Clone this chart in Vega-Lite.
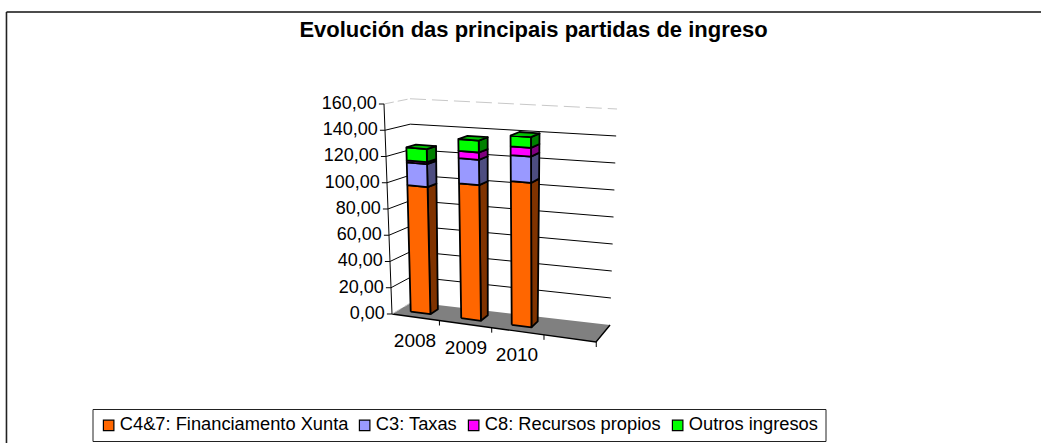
{"$schema":"https://vega.github.io/schema/vega-lite/v6.json","width":1041,"height":443,"padding":0,"autosize":{"type":"none"},"background":"white","config":{"view":{"stroke":null},"font":"Liberation Sans"},
"title":{"text":"Evolución das principais partidas de ingreso","font":"Liberation Sans","fontSize":22,"fontWeight":"bold","color":"black","anchor":"middle","baseline":"alphabetic","offset":-59,"dx":13},
"datasets":{"ingresos":[
{"year":2008,"series":"C4&7: Financiamento Xunta","value":97},{"year":2008,"series":"C3: Taxas","value":17.5},{"year":2008,"series":"C8: Recursos propios","value":1.5},{"year":2008,"series":"Outros ingresos","value":10},
{"year":2009,"series":"C4&7: Financiamento Xunta","value":102},{"year":2009,"series":"C3: Taxas","value":19},{"year":2009,"series":"C8: Recursos propios","value":5.5},{"year":2009,"series":"Outros ingresos","value":9},
{"year":2010,"series":"C4&7: Financiamento Xunta","value":107},{"year":2010,"series":"C3: Taxas","value":19.5},{"year":2010,"series":"C8: Recursos propios","value":6.5},{"year":2010,"series":"Outros ingresos","value":8}],
"ticks":[{"tick":0},{"tick":20},{"tick":40},{"tick":60},{"tick":80},{"tick":100},{"tick":120},{"tick":140},{"tick":160}],
"years":[{"year":2008},{"year":2009},{"year":2010},{"year":2011}],
"floor":[{"part":"floor"}]},
"encoding":{"x":{"field":"X","type":"quantitative","axis":null,"scale":{"domain":[-7.686,12.725],"range":[0,1041],"nice":false,"zero":false}},"y":{"field":"Y","type":"quantitative","axis":null,"scale":{"domain":[-98.29,239.24],"range":[443,0],"nice":false,"zero":false}}},
"layer":[
{"data":{"name":"floor"},"transform":[{"calculate":"-7.559","as":"X"},{"calculate":"12.725","as":"X2"},{"calculate":"230.1","as":"Y"},{"calculate":"-98.29","as":"Y2"}],
"layer":[{"mark":{"type":"rule","stroke":"#222222","strokeWidth":1.6},"encoding":{"y2":{"field":"Y2"}}},
{"mark":{"type":"rule","stroke":"#111111","strokeWidth":1.4},"encoding":{"x2":{"field":"X2"}}}]},
{"data":{"name":"floor"},"transform":[{"calculate":"[0,1,2,3,4]","as":"c"},{"flatten":["c"]},{"calculate":"datum.c%4==0||datum.c%4==3?0:1","as":"U"},{"calculate":"datum.c%4<2?0:1","as":"D"},
{"calculate":"(1-datum.D)*datum.U*4+datum.D*((1-datum.U)*0.392+datum.U*4.275)","as":"X"},{"calculate":"(1-datum.D)*datum.U*(-21.33)+datum.D*((1-datum.U)*9.14+datum.U*(-8.38))","as":"Y"}],
"layer":[{"mark":{"type":"line","fill":"#808080","stroke":null},"encoding":{"order":{"field":"c"}}},
{"transform":[{"filter":"datum.c<=2"}],"mark":{"type":"line","stroke":"black","strokeWidth":1.4},"encoding":{"order":{"field":"c"}}}]},
{"data":{"name":"ticks"},"transform":[{"calculate":"datum.tick/160","as":"V"},
{"calculate":"-0.157*datum.V","as":"X"},{"calculate":"datum.tick","as":"Y"},
{"calculate":"0.392-0.039*datum.V","as":"Xb"},{"calculate":"9.14+154.86*datum.V","as":"Yb"},
{"calculate":"4.275+0.137*datum.V","as":"Xr"},{"calculate":"-8.38+164.58*datum.V","as":"Yr"},
{"calculate":"datum.X-0.1","as":"Xt"},{"calculate":"datum.X-0.14","as":"Xl"},{"calculate":"replace(format(datum.tick,'.2f'),'.',',')","as":"label"}],
"layer":[
{"transform":[{"filter":"datum.tick>0&&datum.tick<160"}],"mark":{"type":"rule","stroke":"black","strokeWidth":1},"encoding":{"x2":{"field":"Xb"},"y2":{"field":"Yb"}}},
{"transform":[{"filter":"datum.tick>0&&datum.tick<160"}],"mark":{"type":"rule","stroke":"black","strokeWidth":1},"encoding":{"x":{"field":"Xb","type":"quantitative"},"y":{"field":"Yb","type":"quantitative"},"x2":{"field":"Xr"},"y2":{"field":"Yr"}}},
{"transform":[{"filter":"datum.tick==160||datum.tick==0"}],"mark":{"type":"rule","stroke":"#c8c8c8","strokeWidth":1,"strokeDash":[10,4]},"encoding":{"x2":{"field":"Xb"},"y2":{"field":"Yb"}}},
{"transform":[{"filter":"datum.tick==160"}],"mark":{"type":"rule","stroke":"#c8c8c8","strokeWidth":1,"strokeDash":[16,6]},"encoding":{"x":{"field":"Xb","type":"quantitative"},"y":{"field":"Yb","type":"quantitative"},"x2":{"field":"Xr"},"y2":{"field":"Yr"}}},
{"mark":{"type":"rule","stroke":"black","strokeWidth":1},"encoding":{"x2":{"field":"Xt"},"y2":{"field":"Y"}}},
{"mark":{"type":"line","stroke":"black","strokeWidth":1},"encoding":{"order":{"field":"tick"}}},
{"mark":{"type":"text","align":"right","baseline":"middle","fontSize":18,"font":"Liberation Sans","color":"black"},"encoding":{"x":{"field":"Xl","type":"quantitative"},"text":{"field":"label"}}}
]},
{"data":{"name":"years"},"transform":[{"calculate":"datum.year-2008","as":"k"},{"calculate":"0.93+1.025*datum.k","as":"u"},{"calculate":"datum.u","as":"X"},{"calculate":"-5.333*datum.u","as":"Y"},{"calculate":"datum.Y-3.8","as":"Y2"}],
"mark":{"type":"rule","stroke":"black","strokeWidth":1},"encoding":{"y2":{"field":"Y2"}}},
{"data":{"name":"years"},"transform":[{"filter":"datum.year<2011"},{"calculate":"datum.year-2008","as":"k"},{"calculate":"0.45+1.0*datum.k","as":"X"},{"calculate":"-5.333*datum.X-18.5","as":"Y"}],
"mark":{"type":"text","align":"center","baseline":"middle","fontSize":19,"font":"Liberation Sans","color":"black"},"encoding":{"text":{"field":"year"}}},
{"data":{"name":"ingresos"},"transform":[
{"calculate":"indexof(['C4&7: Financiamento Xunta','C3: Taxas','C8: Recursos propios','Outros ingresos'],datum.series)","as":"rank"},
{"stack":"value","groupby":["year"],"sort":[{"field":"rank","order":"ascending"}],"as":["v0","v1"]},
{"calculate":"datum.year-2008","as":"k"},
{"calculate":"datum.k+0.24","as":"uL"},{"calculate":"datum.k+0.63","as":"uR"},
{"calculate":"['side','front','top']","as":"face"},{"flatten":["face"]},
{"filter":"datum.face!='top'||datum.rank==3"},
{"calculate":"[0,1,2,3,4]","as":"c"},{"flatten":["c"]},
{"calculate":"datum.c%4","as":"i"},
{"calculate":"datum.face=='side'?datum.uR:(datum.i==0||datum.i==3?datum.uL:datum.uR)","as":"u"},
{"calculate":"datum.face=='side'?(datum.i==0||datum.i==3?0.33:0.72):datum.face=='front'?0.33:(datum.i<2?0.33:0.72)","as":"D"},
{"calculate":"datum.face=='top'?datum.v1:(datum.i<2?datum.v0:datum.v1)","as":"v"},
{"calculate":"datum.u/4","as":"U"},{"calculate":"datum.v/160","as":"V"},
{"calculate":"(1-datum.D)*((1-datum.U)*(-0.157*datum.V)+datum.U*4)+datum.D*((1-datum.U)*(0.392-0.039*datum.V)+datum.U*(4.275+0.137*datum.V))","as":"X"},
{"calculate":"(1-datum.D)*((1-datum.U)*(160*datum.V)+datum.U*(-21.33+169.33*datum.V))+datum.D*((1-datum.U)*(9.14+154.86*datum.V)+datum.U*(-8.38+164.58*datum.V))","as":"Y"}],
"resolve":{"scale":{"fill":"independent"}},
"layer":[
{"transform":[{"filter":"datum.face=='side'"}],"mark":{"type":"line","stroke":"black","strokeWidth":1.8,"strokeJoin":"round"},"encoding":{"order":{"field":"c"},"detail":{"field":"year"},"fill":{"field":"series","legend":null,"sort":["C4&7: Financiamento Xunta","C3: Taxas","C8: Recursos propios","Outros ingresos"],"scale":{"domain":["C4&7: Financiamento Xunta","C3: Taxas","C8: Recursos propios","Outros ingresos"],"range":["#803300","#4d4d80","#800080","#008000"]}}}},
{"transform":[{"filter":"datum.face=='front'"}],"mark":{"type":"line","stroke":"black","strokeWidth":1.8,"strokeJoin":"round"},"encoding":{"order":{"field":"c"},"detail":{"field":"year"},"fill":{"field":"series","sort":["C4&7: Financiamento Xunta","C3: Taxas","C8: Recursos propios","Outros ingresos"],"scale":{"domain":["C4&7: Financiamento Xunta","C3: Taxas","C8: Recursos propios","Outros ingresos"],"range":["#ff6600","#9999ff","#ff00ff","#00ff00"]},"legend":{"title":null,"orient":"none","legendX":92.5,"legendY":409,"direction":"horizontal","columns":4,"symbolType":"square","symbolSize":110,"symbolStrokeColor":"black","symbolStrokeWidth":1.2,"labelFont":"Liberation Sans","labelFontSize":18.3,"labelColor":"black","labelLimit":400,"columnPadding":7,"padding":7,"strokeColor":"#222222","fillColor":"white","labelOffset":2}}}},
{"transform":[{"filter":"datum.face=='top'"}],"mark":{"type":"line","stroke":"black","strokeWidth":1.8,"fill":"#00c000","strokeJoin":"round"},"encoding":{"order":{"field":"c"},"detail":{"field":"year"}}}
]}
]}
